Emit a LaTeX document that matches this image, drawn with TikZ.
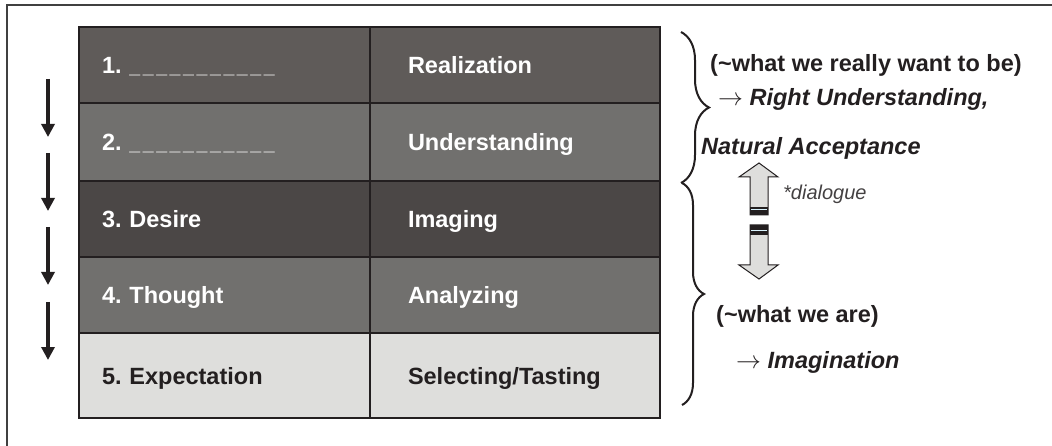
\documentclass[tikz,border=0pt]{standalone}
\usepackage{fontspec}
\setmainfont{Liberation Sans}
\usetikzlibrary{positioning,arrows.meta,decorations.pathreplacing}
\definecolor{rowdark}{RGB}{95,91,89}
\definecolor{rowmid}{RGB}{113,112,110}
\definecolor{rowdeep}{RGB}{75,71,70}
\definecolor{rowlight}{RGB}{222,222,220}
\definecolor{ink}{RGB}{35,31,32}
\definecolor{framegray}{RGB}{64,64,64}
\newcommand{\dashblank}{{\fontsize{19.5}{22}\selectfont\_}\kern2.6pt}

\begin{document}
\frenchspacing
\begin{tikzpicture}[x=1pt, y=-1pt, >={Triangle[width=13pt,length=13pt]},
  every node/.style={font=\fontsize{23.5}{28}\selectfont\bfseries},
  cell/.style={draw=ink, line width=2pt, outer sep=0pt, inner ysep=0pt, align=left, text height=17pt, text depth=0pt},
  leftcell/.style={cell, text width=245pt, inner xsep=23pt},
  rightcell/.style={cell, text width=214pt, inner xsep=38pt},
  note/.style={anchor=base west, text=ink, inner sep=0pt},
  hollow/.style={draw=ink, fill=rowlight, line width=1pt},
  curly/.style={draw=ink, line width=2pt, decorate}]

\useasboundingbox (0,0) rectangle (1052,446);
\draw[framegray, line width=2pt] (1052,5) -- (7,5) -- (7,446);

% table rows
\node[leftcell, fill=rowdark, text=white, minimum height=76pt, anchor=north west] (blank1) at (79,27) {1. \dashblank\dashblank\dashblank\dashblank\dashblank\dashblank\dashblank\dashblank\dashblank\dashblank\dashblank};
\node[rightcell, fill=rowdark, text=white, minimum height=76pt, right=0pt of blank1] (realization) {Realization};
\node[leftcell, fill=rowmid, text=white, minimum height=78pt, below=0pt of blank1] (blank2) {2. \dashblank\dashblank\dashblank\dashblank\dashblank\dashblank\dashblank\dashblank\dashblank\dashblank\dashblank};
\node[rightcell, fill=rowmid, text=white, minimum height=78pt, right=0pt of blank2] (understanding) {Understanding};
\node[leftcell, fill=rowdeep, text=white, minimum height=76pt, below=0pt of blank2] (desire) {3. Desire};
\node[rightcell, fill=rowdeep, text=white, minimum height=76pt, right=0pt of desire] (imaging) {Imaging};
\node[leftcell, fill=rowmid, text=white, minimum height=76pt, below=0pt of desire] (thought) {4. Thought};
\node[rightcell, fill=rowmid, text=white, minimum height=76pt, right=0pt of thought] (analyzing) {Analyzing};
\node[leftcell, fill=rowlight, text=ink, minimum height=85pt, below=0pt of thought] (expectation) {5. Expectation};
\node[rightcell, fill=rowlight, text=ink, minimum height=85pt, right=0pt of expectation] (selecting) {Selecting/Tasting};

% downward flow on the left
\foreach \i/\y in {1/79,2/153,3/227,4/302} {
  \coordinate (flow\i a) at (48,\y);
  \coordinate (flow\i b) at (48,\y+58);
  \draw[->, ink, line width=3.5pt] (flow\i a) -- (flow\i b);
}

% braces
\draw[curly, decoration={brace, amplitude=28pt}] (681,32) -- (681,183);
\draw[curly, decoration={brace, amplitude=22pt}] (682,183) -- (682,405);

% notes
\node[note] (wantbe) at (710,72) {(\textasciitilde what we really want to be)};
\node[note, font=\fontsize{23.5}{28}\selectfont\bfseries\itshape] (rightund) at (718,106) {$\rightarrow$ Right Understanding,};
\node[note, font=\fontsize{23.5}{28}\selectfont\bfseries\itshape] (natural) at (701,155) {Natural Acceptance};
\node[note, text=ink!85, font=\fontsize{20}{22}\selectfont\itshape] (dialogue) at (783,200) {*dialogue};
\node[note] (weare) at (716,323) {(\textasciitilde what we are)};
\node[note, font=\fontsize{23.5}{28}\selectfont\bfseries\itshape] (imagination) at (736,368) {$\rightarrow$ Imagination};

% dialogue arrows
\draw[hollow] (759,163) -- (778,177) -- (768,177) -- (768,215) -- (750,215) -- (750,177) -- (739,177) -- cycle;
\fill[ink] (750,207) rectangle (768,215);
\draw[cyan!15, line width=0.6pt] (751,209.5) -- (767,209.5);
\draw[hollow] (750,225) -- (768,225) -- (768,265) -- (778,265) -- (759,279) -- (739,265) -- (750,265) -- cycle;
\fill[ink] (750,225) rectangle (768,235);
\draw[cyan!15, line width=0.6pt] (751,230.5) -- (767,230.5);

\end{tikzpicture}
\end{document}
